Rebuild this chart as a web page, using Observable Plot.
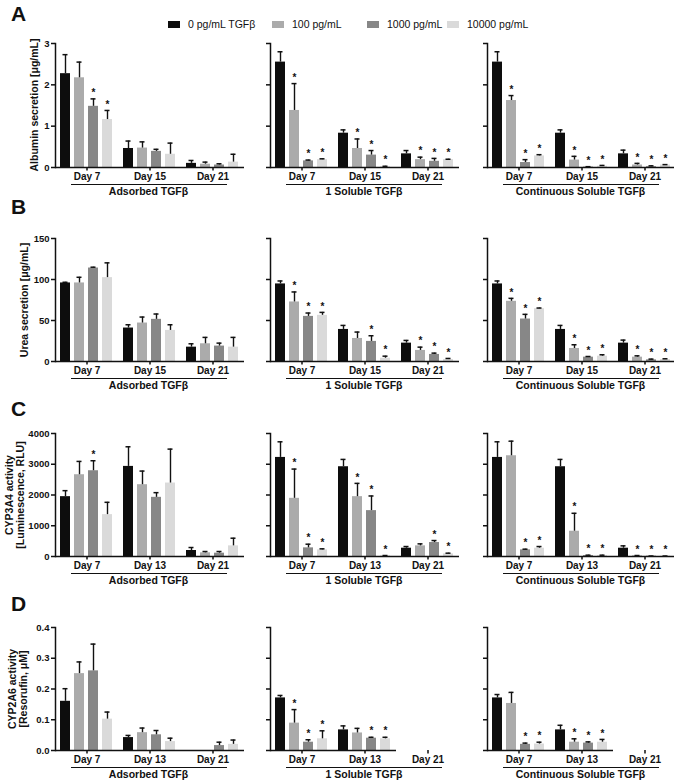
<!DOCTYPE html>
<html>
<head>
<meta charset="utf-8">
<script src="https://cdn.jsdelivr.net/npm/d3@7"></script>
<script src="https://cdn.jsdelivr.net/npm/@observablehq/plot@0.6"></script>
<style>
  html, body { margin: 0; padding: 0; background: #fff; }
  #fig { position: relative; width: 674px; height: 781px; overflow: hidden; background: #fff;
         font-family: "Liberation Sans", Arial, sans-serif; color: #111; }
  .abs { position: absolute; }
  .letter { font-size: 21px; font-weight: bold; line-height: 21px; }
  .ytitle { font-size: 10.5px; font-weight: bold; line-height: 11px; text-align: center; white-space: nowrap;
            transform: translate(-50%, -50%) rotate(-90deg); }
  .group { border-top: 1.5px solid #111; text-align: center; font-size: 10.5px; font-weight: bold;
           line-height: 11px; padding-top: 1px; }
  .leg { font-size: 10.5px; line-height: 12px; white-space: nowrap; display: flex; align-items: center; }
  .sw { width: 12px; height: 7px; margin-right: 8px; display: inline-block; }
</style>
</head>
<body>
<div id="fig"></div>
<script>
// ---------- data ----------
const concs = ["0 pg/mL TGFβ", "100 pg/mL", "1000 pg/mL", "10000 pg/mL"];
const concColors = ["#0d0d0d", "#ababab", "#878787", "#dadada"];
const treatments = ["Adsorbed TGFβ", "1 Soluble TGFβ", "Continuous Soluble TGFβ"];
const daysEarly = ["Day 7", "Day 15", "Day 21"];
const daysLate = ["Day 7", "Day 13", "Day 21"];

// [treatment][day][concentration]
const albuminMean = [
  [[2.27, 2.17, 1.48, 1.16], [0.46, 0.47, 0.39, 0.32], [0.10, 0.08, 0.06, 0.13]],
  [[2.55, 1.38, 0.16, 0.19], [0.83, 0.46, 0.30, 0.02], [0.33, 0.19, 0.15, 0.19]],
  [[2.55, 1.62, 0.12, 0.28], [0.83, 0.18, 0.01, 0.03], [0.33, 0.06, 0.02, 0.06]]
];
const albuminErr = [
  [[0.46, 0.38, 0.18, 0.22], [0.18, 0.15, 0.05, 0.27], [0.07, 0.05, 0.03, 0.19]],
  [[0.25, 0.65, 0.02, 0.02], [0.08, 0.23, 0.11, 0.01], [0.08, 0.06, 0.07, 0.01]],
  [[0.25, 0.12, 0.07, 0.03], [0.08, 0.09, 0.01, 0.02], [0.09, 0.04, 0.02, 0.01]]
];
const albuminSig = [
  [[0, 0, 1, 1], [0, 0, 0, 0], [0, 0, 0, 0]],
  [[0, 1, 1, 1], [0, 1, 1, 1], [0, 1, 1, 1]],
  [[0, 1, 1, 1], [0, 1, 1, 1], [0, 1, 1, 1]]
];

const ureaMean = [
  [[95.8, 95.8, 114, 102.3], [40.8, 46.9, 51.4, 37.9], [17.5, 21.6, 18.8, 17.5]],
  [[94.6, 72.6, 55, 56.3], [39.1, 28.1, 24.5, 4], [22.4, 13.5, 8.6, 2.4]],
  [[94.6, 73.4, 51.8, 64.4], [39.1, 15.9, 5.3, 6.5], [22.4, 5.3, 2, 2.4]]
];
const ureaErr = [
  [[0.8, 6.9, 1, 18], [4, 7.3, 6.5, 6.9], [4.1, 7.8, 3.6, 11.9]],
  [[3.6, 12.2, 4.1, 3.6], [4.9, 7.8, 6.9, 2.5], [3.3, 4, 1.6, 1.3]],
  [[3.6, 3.6, 5.7, 0.8], [4.9, 4.5, 0.8, 1.7], [3.7, 1.6, 0.9, 0.9]]
];
const ureaSig = [
  [[0, 0, 0, 0], [0, 0, 0, 0], [0, 0, 0, 0]],
  [[0, 1, 1, 1], [0, 0, 1, 1], [0, 1, 1, 1]],
  [[0, 1, 1, 1], [0, 1, 1, 1], [0, 1, 1, 1]]
];

const cyp3a4Mean = [
  [[1946, 2659, 2789, 1362], [2930, 2335, 1924, 2389], [195, 119, 108, 346]],
  [[3222, 1892, 281, 216], [2919, 1946, 1492, 22], [270, 346, 454, 86]],
  [[3222, 3276, 216, 270], [2919, 822, 32, 32], [270, 22, 11, 11]]
];
const cyp3a4Err = [
  [[195, 433, 325, 400], [638, 443, 152, 1103], [97, 43, 54, 249]],
  [[508, 951, 119, 33], [238, 432, 476, 10], [54, 65, 65, 22]],
  [[508, 475, 22, 54], [238, 583, 11, 11], [76, 10, 5, 5]]
];
const cyp3a4Sig = [
  [[0, 0, 1, 0], [0, 0, 0, 0], [0, 0, 0, 0]],
  [[0, 1, 1, 1], [0, 1, 1, 1], [0, 0, 1, 1]],
  [[0, 0, 1, 1], [0, 1, 1, 1], [0, 1, 1, 1]]
];

const cyp2a6Mean = [
  [[0.160, 0.250, 0.259, 0.102], [0.042, 0.058, 0.051, 0.029], [null, null, 0.016, 0.020]],
  [[0.171, 0.089, 0.027, 0.038], [0.067, 0.057, 0.040, 0.038], [null, null, null, null]],
  [[0.171, 0.153, 0.020, 0.021], [0.067, 0.027, 0.024, 0.027], [null, null, null, null]]
];
const cyp2a6Err = [
  [[0.041, 0.038, 0.087, 0.023], [0.007, 0.015, 0.014, 0.011], [null, null, 0.011, 0.014]],
  [[0.008, 0.044, 0.008, 0.026], [0.013, 0.015, 0.003, 0.005], [null, null, null, null]],
  [[0.011, 0.036, 0.004, 0.006], [0.015, 0.011, 0.004, 0.009], [null, null, null, null]]
];
const cyp2a6Sig = [
  [[0, 0, 0, 0], [0, 0, 0, 0], [0, 0, 0, 0]],
  [[0, 1, 1, 1], [0, 0, 1, 1], [0, 0, 0, 0]],
  [[0, 0, 1, 1], [0, 1, 1, 1], [0, 0, 0, 0]]
];

const yTicksA = [0, 1, 2, 3];
const yTicksB = [0, 50, 100, 150];
const yTicksC = [0, 1000, 2000, 3000, 4000];
const yTicksD = [0, 0.1, 0.2, 0.3, 0.4];

// ---------- layout ----------
const FONT = '"Liberation Sans", Arial, sans-serif';
const panelLeft = [53.5, 269, 485.5];
const facetW = 190;
const rows = [
  {letter: "A", title: ["Albumin secretion [μg/mL]"], titleX: 34, days: daysEarly,
   mean: albuminMean, err: albuminErr, sig: albuminSig, ticks: yTicksA, fmt: d => String(d), top: 43, h: 124, letterTop: 3},
  {letter: "B", title: ["Urea secretion [μg/mL]"], titleX: 24, days: daysEarly,
   mean: ureaMean, err: ureaErr, sig: ureaSig, ticks: yTicksB, fmt: d => String(d), top: 238, h: 123, letterTop: 196},
  {letter: "C", title: ["CYP3A4 activity", "[Luminescence, RLU]"], titleX: 15, days: daysLate,
   mean: cyp3a4Mean, err: cyp3a4Err, sig: cyp3a4Sig, ticks: yTicksC, fmt: d => String(d), top: 433, h: 123, letterTop: 398},
  {letter: "D", title: ["CYP2A6 activity", "[Resorufin, μM]"], titleX: 18, days: daysLate,
   mean: cyp2a6Mean, err: cyp2a6Err, sig: cyp2a6Sig, ticks: yTicksD, fmt: d3.format(".1f"), top: 627, h: 123, letterTop: 593}
];

const fig = document.getElementById("fig");
function place(el, left, top) {
  el.classList.add("abs");
  el.style.left = left + "px";
  el.style.top = top + "px";
  fig.appendChild(el);
  return el;
}

// legend
const legendX = [168, 272, 367, 447];
concs.forEach((c, i) => {
  const item = document.createElement("div");
  item.className = "leg";
  const sw = document.createElement("span");
  sw.className = "sw";
  sw.style.background = concColors[i];
  item.appendChild(sw);
  item.appendChild(document.createTextNode(c));
  place(item, legendX[i], 18);
});

const MT = 8, MB = 22;
rows.forEach(row => {
  const L = document.createElement("div");
  L.className = "letter";
  L.textContent = row.letter;
  place(L, 11, row.letterTop);

  const T = document.createElement("div");
  T.className = "ytitle";
  T.innerHTML = row.title.join("<br>");
  place(T, row.titleX, row.top + row.h / 2);

  treatments.forEach((tr, t) => {
    const data = [];
    row.days.forEach((day, di) => concs.forEach((c, ci) => {
      const m = row.mean[t][di][ci];
      if (m == null) return;
      data.push({day, conc: c, mean: m, top: m + row.err[t][di][ci], sig: row.sig[t][di][ci]});
    }));
    const first = t === 0;
    const ml = first ? 54 : 10;
    const chart = Plot.plot({
      width: ml + facetW,
      height: MT + row.h + MB,
      marginLeft: ml, marginRight: 0, marginTop: MT, marginBottom: MB,
      style: {fontFamily: FONT, color: "#111", background: "transparent", overflow: "visible"},
      fx: {domain: row.days, padding: 0, label: null},
      x: {domain: concs, paddingInner: 0.28, paddingOuter: 0.39, axis: null},
      y: {domain: [row.ticks[0], row.ticks[row.ticks.length - 1]]},
      color: {domain: concs, range: concColors},
      marks: [
        Plot.barY(data, {fx: "day", x: "conc", y: "mean", fill: "conc"}),
        Plot.ruleX(data, {fx: "day", x: "conc", y1: "mean", y2: "top", stroke: "#111", strokeWidth: 1.4}),
        Plot.tickY(data, {fx: "day", x: "conc", y: "top", stroke: "#111", strokeWidth: 1.5, insetLeft: 2.5, insetRight: 2.5}),
        Plot.text(data.filter(d => d.sig), {fx: "day", x: "conc", y: "top", text: () => "*",
          dy: -6, fontSize: 10, fontWeight: "bold", fill: "#111"}),
        Plot.ruleY([0], {stroke: "#111", strokeWidth: 1.5}),
        Plot.frame({anchor: "left", facet: "super", stroke: "#111", strokeWidth: 1.5}),
        Plot.axisY({ticks: row.ticks, tickSize: 4, tickPadding: 2, label: null,
          tickFormat: first ? row.fmt : () => "", fontSize: 9.5, fontWeight: "bold", strokeWidth: 1.5}),
        Plot.axisFx({anchor: "bottom", tickSize: 3.5, tickPadding: 2, label: null, fontSize: 10, fontWeight: "bold", strokeWidth: 1.5})
      ]
    });
    place(chart, panelLeft[t] - ml, row.top - MT);

    const G = document.createElement("div");
    G.className = "group";
    G.style.width = "156px";
    G.textContent = tr;
    place(G, panelLeft[t] + 17, row.top + row.h + 17);
  });
});
</script>
</body>
</html>
